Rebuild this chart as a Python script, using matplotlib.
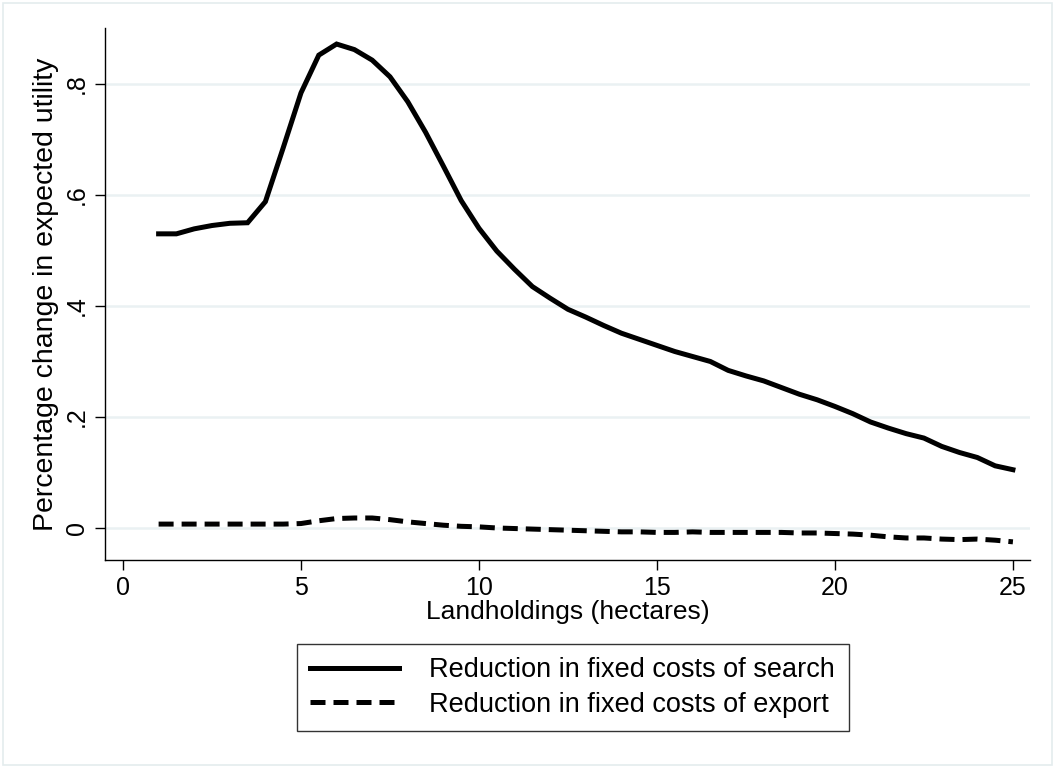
import matplotlib
matplotlib.use("Agg")
import matplotlib.pyplot as plt
from matplotlib.patches import Rectangle

plt.rcParams['font.family'] = ['Liberation Sans', 'DejaVu Sans']

landholdings = [1, 1.5, 2, 2.5, 3, 3.5, 4, 4.5, 5, 5.5, 6, 6.5, 7, 7.5, 8, 8.5, 9, 9.5,
                10, 10.5, 11, 11.5, 12, 12.5, 13, 13.5, 14, 14.5, 15, 15.5, 16, 16.5,
                17, 17.5, 18, 18.5, 19, 19.5, 20, 20.5, 21, 21.5, 22, 22.5, 23, 23.5,
                24, 24.5, 25]

search = [0.530, 0.530, 0.539, 0.545, 0.549, 0.550, 0.588, 0.685, 0.784, 0.852, 0.872,
          0.862, 0.843, 0.813, 0.768, 0.713, 0.652, 0.590, 0.540, 0.499, 0.466, 0.435,
          0.414, 0.394, 0.380, 0.365, 0.351, 0.340, 0.329, 0.318, 0.309, 0.300, 0.284,
          0.274, 0.265, 0.253, 0.241, 0.231, 0.219, 0.206, 0.191, 0.180, 0.170, 0.162,
          0.147, 0.136, 0.127, 0.112, 0.105]

export = [0.007, 0.007, 0.007, 0.007, 0.007, 0.007, 0.007, 0.007, 0.008, 0.013, 0.017,
          0.018, 0.018, 0.015, 0.011, 0.008, 0.005, 0.003, 0.002, 0.000, -0.001, -0.002,
          -0.003, -0.004, -0.005, -0.006, -0.007, -0.007, -0.008, -0.008, -0.007, -0.008,
          -0.008, -0.008, -0.008, -0.008, -0.009, -0.009, -0.010, -0.011, -0.013, -0.016,
          -0.018, -0.018, -0.020, -0.021, -0.020, -0.022, -0.025]

labels = ["Reduction in fixed costs of search", "Reduction in fixed costs of export"]
xticks = [0, 5, 10, 15, 20, 25]
yticks = [0, 0.2, 0.4, 0.6, 0.8]
ytick_labels = ["0", ".2", ".4", ".6", ".8"]

W, H = 1055, 768
fig = plt.figure(figsize=(W / 100, H / 100), dpi=100)
fig.patch.set_facecolor('white')
fig.patches.append(Rectangle((3 / W, 3 / H), 1 - 6 / W, 1 - 6 / H, transform=fig.transFigure,
                             fill=False, edgecolor='#e4ecee', linewidth=1.2))

ax = fig.add_axes([105 / W, 1 - 560 / H, (1030 - 105) / W, (560 - 28) / H])
ax.set_xlim(-0.506, 25.48)
ax.set_ylim(-0.0577, 0.9009)

ax.grid(axis='y', color='#eaf1f3', linewidth=1.8)
ax.set_axisbelow(True)

ax.plot(landholdings, search, color='black', linewidth=3.6, solid_joinstyle='miter',
        label=labels[0])
ax.plot(landholdings, export, color='black', linewidth=3.6, dashes=(3, 1.6),
        label=labels[1])

for s in ['top', 'right']:
    ax.spines[s].set_visible(False)
for s in ['left', 'bottom']:
    ax.spines[s].set_linewidth(1.0)

ax.set_xticks(xticks)
ax.set_xticklabels([str(v) for v in xticks], fontsize=18)
ax.set_yticks(yticks)
ax.set_yticklabels(ytick_labels, fontsize=18, rotation=90, va='center')
ax.tick_params(axis='both', direction='out', length=7.5, width=1.0, pad=4)

ax.set_xlabel("Landholdings (hectares)", fontsize=19, labelpad=0)
ax.set_ylabel("Percentage change in expected utility", fontsize=20.5, labelpad=4)

leg = fig.legend(loc='center', bbox_to_anchor=(572.5 / W, 1 - 687.5 / H), fontsize=19.5,
                 frameon=True, fancybox=False, edgecolor='black', handlelength=3.3,
                 borderpad=0.5, labelspacing=0.3, handletextpad=1.1, borderaxespad=0)
leg.get_frame().set_linewidth(1.0)

fig.savefig("out.png", dpi=100)
